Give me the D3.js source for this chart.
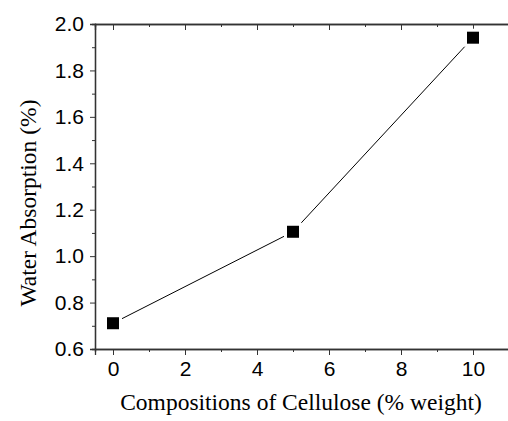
<!doctype html>
<html>
<head>
<style>
    body { margin: 0; background: #fff; }
    svg { display: block; }
    .tick text { font-family: 'Liberation Sans', Arial, sans-serif; font-size: 21px; fill: #000; }
    .domain, .tick line { stroke: #333; }
    text.label { font-family: 'Liberation Serif', 'Times New Roman', serif; font-size: 23.5px; fill: #000; }
</style>
<script src="https://d3js.org/d3.v7.min.js"></script>
</head>
<body>
<svg width="508" height="421"></svg>
<script>
    const compositions = [0, 5, 10]
    const absorption = [0.711, 1.105, 1.941]
    const xTicks = [0, 2, 4, 6, 8, 10]
    const yTicks = [0.6, 0.8, 1.0, 1.2, 1.4, 1.6, 1.8, 2.0]

    const svg = d3.select('svg')
    const mLeft = 95, mTop = 24, mRight = 509, mBottom = 349

    const x = d3.scaleLinear().domain([-0.5, 11]).range([mLeft, mRight])
    const y = d3.scaleLinear().domain([0.6, 2.0]).range([mBottom, mTop])

    const minorX = d3.range(1, 11, 2)
    const minorY = d3.range(0.7, 2.0, 0.2)

    // minor ticks first, then major axes on top
    svg.append('g')
        .attr('transform', `translate(0,${mBottom})`)
        .call(d3.axisBottom(x).tickValues(minorX).tickSize(3).tickFormat(''))
    svg.append('g')
        .attr('transform', `translate(0,${mTop})`)
        .call(d3.axisBottom(x).tickValues(minorX).tickSize(3).tickFormat(''))
    svg.append('g')
        .attr('transform', `translate(${mLeft},0)`)
        .call(d3.axisLeft(y).tickValues(minorY).tickSize(3).tickFormat(''))

    svg.append('g')
        .attr('transform', `translate(0,${mBottom})`)
        .call(d3.axisBottom(x).tickValues(xTicks).tickSize(6).tickPadding(6).tickFormat(d3.format('d')))
    svg.append('g')
        .attr('transform', `translate(0,${mTop})`)
        .call(d3.axisBottom(x).tickValues(xTicks).tickSize(6).tickFormat(''))
    svg.append('g')
        .attr('transform', `translate(${mLeft},0)`)
        .call(d3.axisLeft(y).tickValues(yTicks).tickSize(5).tickPadding(6).tickFormat(d3.format('.1f')))

    svg.selectAll('.domain').attr('stroke-width', 1.3)

    const pts = compositions.map((c, i) => [c, absorption[i]])

    svg.append('path')
        .datum(pts)
        .attr('fill', 'none')
        .attr('stroke', '#000')
        .attr('stroke-width', 1)
        .attr('d', d3.line().x(d => x(d[0])).y(d => y(d[1])))

    // white halo so the line stops short of each marker
    svg.selectAll('rect.halo')
        .data(pts)
        .enter()
        .append('rect')
        .attr('class', 'halo')
        .attr('x', d => x(d[0]) - 9)
        .attr('y', d => y(d[1]) - 9)
        .attr('width', 18)
        .attr('height', 18)
        .attr('fill', '#fff')

    svg.selectAll('rect.marker')
        .data(pts)
        .enter()
        .append('rect')
        .attr('class', 'marker')
        .attr('x', d => x(d[0]) - 6)
        .attr('y', d => y(d[1]) - 6)
        .attr('width', 12)
        .attr('height', 12)
        .attr('fill', '#000')

    svg.append('text')
        .attr('class', 'label')
        .attr('x', 301)
        .attr('y', 410)
        .attr('text-anchor', 'middle')
        .text('Compositions of Cellulose (% weight)')

    svg.append('text')
        .attr('class', 'label')
        .attr('transform', 'translate(36,203) rotate(-90)')
        .attr('text-anchor', 'middle')
        .text('Water Absorption (%)')
</script>
</body>
</html>
